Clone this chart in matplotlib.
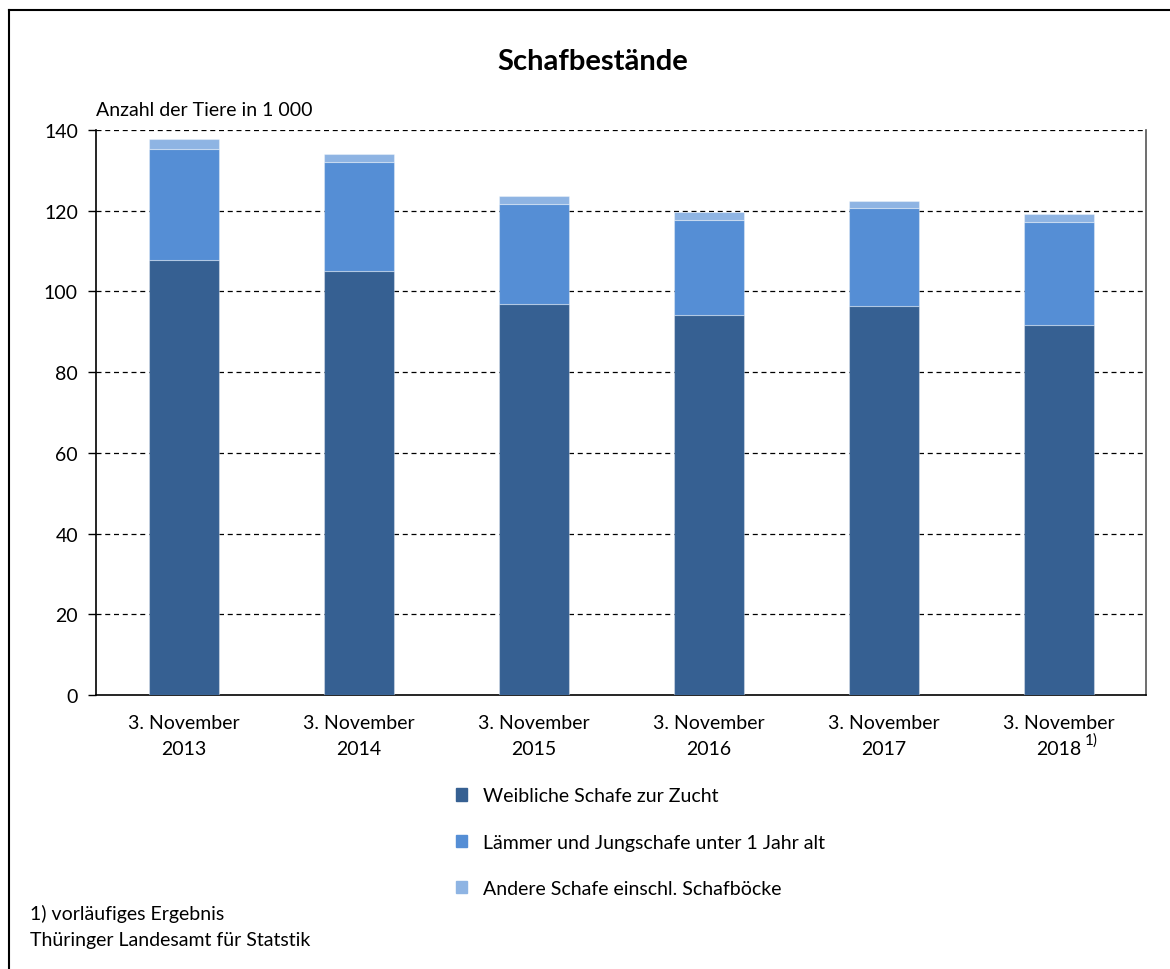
import matplotlib.pyplot as plt
import matplotlib.patches as mpatches
from matplotlib.lines import Line2D
import numpy as np

plt.rcParams['font.family'] = ['Lato', 'DejaVu Sans']

# Data (Anzahl der Tiere in 1 000)
years = ["2013", "2014", "2015", "2016", "2017", "2018"]
weibliche = [107.9, 105.0, 96.9, 94.2, 96.5, 91.7]
laemmer = [27.4, 27.1, 24.8, 23.6, 24.2, 25.5]
andere = [2.4, 1.9, 1.9, 1.8, 1.8, 1.9]

series_labels = ["Weibliche Schafe zur Zucht",
                 "Lämmer und Jungschafe unter 1 Jahr alt",
                 "Andere Schafe einschl. Schafböcke"]
colors = ["#366092", "#558ED5", "#8EB4E3"]

fs = 14

fig = plt.figure(figsize=(11.7, 9.7), dpi=100)
ax = fig.add_axes([96 / 1170, 1 - 696 / 970, 1050 / 1170, 565 / 970])

x = np.arange(len(years))
w = 0.4
edge = (1, 1, 1, 0.35)
ax.bar(x, weibliche, w, color=colors[0], edgecolor=edge, linewidth=0.8, zorder=3)
ax.bar(x, laemmer, w, bottom=weibliche, color=colors[1], edgecolor=edge, linewidth=0.8, zorder=3)
bottom2 = np.array(weibliche) + np.array(laemmer)
ax.bar(x, andere, w, bottom=bottom2, color=colors[2], edgecolor=edge, linewidth=0.8, zorder=3)

ax.set_xlim(-0.5, len(years) - 0.5)
ax.set_ylim(0, 140)
ax.set_yticks(np.arange(0, 141, 20))
ax.tick_params(axis='y', labelsize=fs, length=6, width=1, pad=7)
ax.tick_params(axis='x', length=0, labelsize=fs, pad=14)
ax.set_xticks(x)
ax.set_xticklabels([f"3. November\n{y}" for y in years], linespacing=1.6)

for yv in range(20, 141, 20):
    ax.axhline(yv, color="black", linestyle=(0, (4, 3)), linewidth=0.9, zorder=1)

ax.spines["top"].set_visible(False)
ax.spines["left"].set_linewidth(1.2)
ax.spines["bottom"].set_linewidth(1.2)
ax.spines["right"].set_color("#555555")
ax.spines["right"].set_linewidth(1.2)

# footnote marker for 2018
ax.annotate("1)", xy=(5, 0), xycoords=("data", "axes fraction"),
            xytext=(19, -32), textcoords="offset points", fontsize=11, ha="left", va="center")

fig.text(593 / 1170, 1 - 62 / 970, "Schafbestände", ha="center", va="center",
         fontsize=21, fontweight="bold")
fig.text(96 / 1170, 1 - 110 / 970, "Anzahl der Tiere in 1 000", ha="left", va="center", fontsize=fs)

handles = [mpatches.Patch(color=c) for c in colors]
fig.legend(handles, series_labels, loc="upper left",
           bbox_to_anchor=(438 / 1170, 1 - 771 / 970), frameon=False, fontsize=fs,
           handlelength=0.6, handleheight=0.6, handletextpad=0.8, labelspacing=1.5)

fig.text(30 / 1170, 1 - 914 / 970, "1) vorläufiges Ergebnis", ha="left", va="center", fontsize=fs)
fig.text(30 / 1170, 1 - 941 / 970, "Thüringer Landesamt für Statstik", ha="left", va="center", fontsize=fs)

# outer frame (left and top)
fig.add_artist(Line2D([9 / 1170, 9 / 1170], [0, 1 - 11 / 970], transform=fig.transFigure,
                      color="black", linewidth=1.5))
fig.add_artist(Line2D([9 / 1170, 1], [1 - 11 / 970, 1 - 11 / 970], transform=fig.transFigure,
                      color="black", linewidth=1.5))

plt.savefig("out.png", dpi=100)
